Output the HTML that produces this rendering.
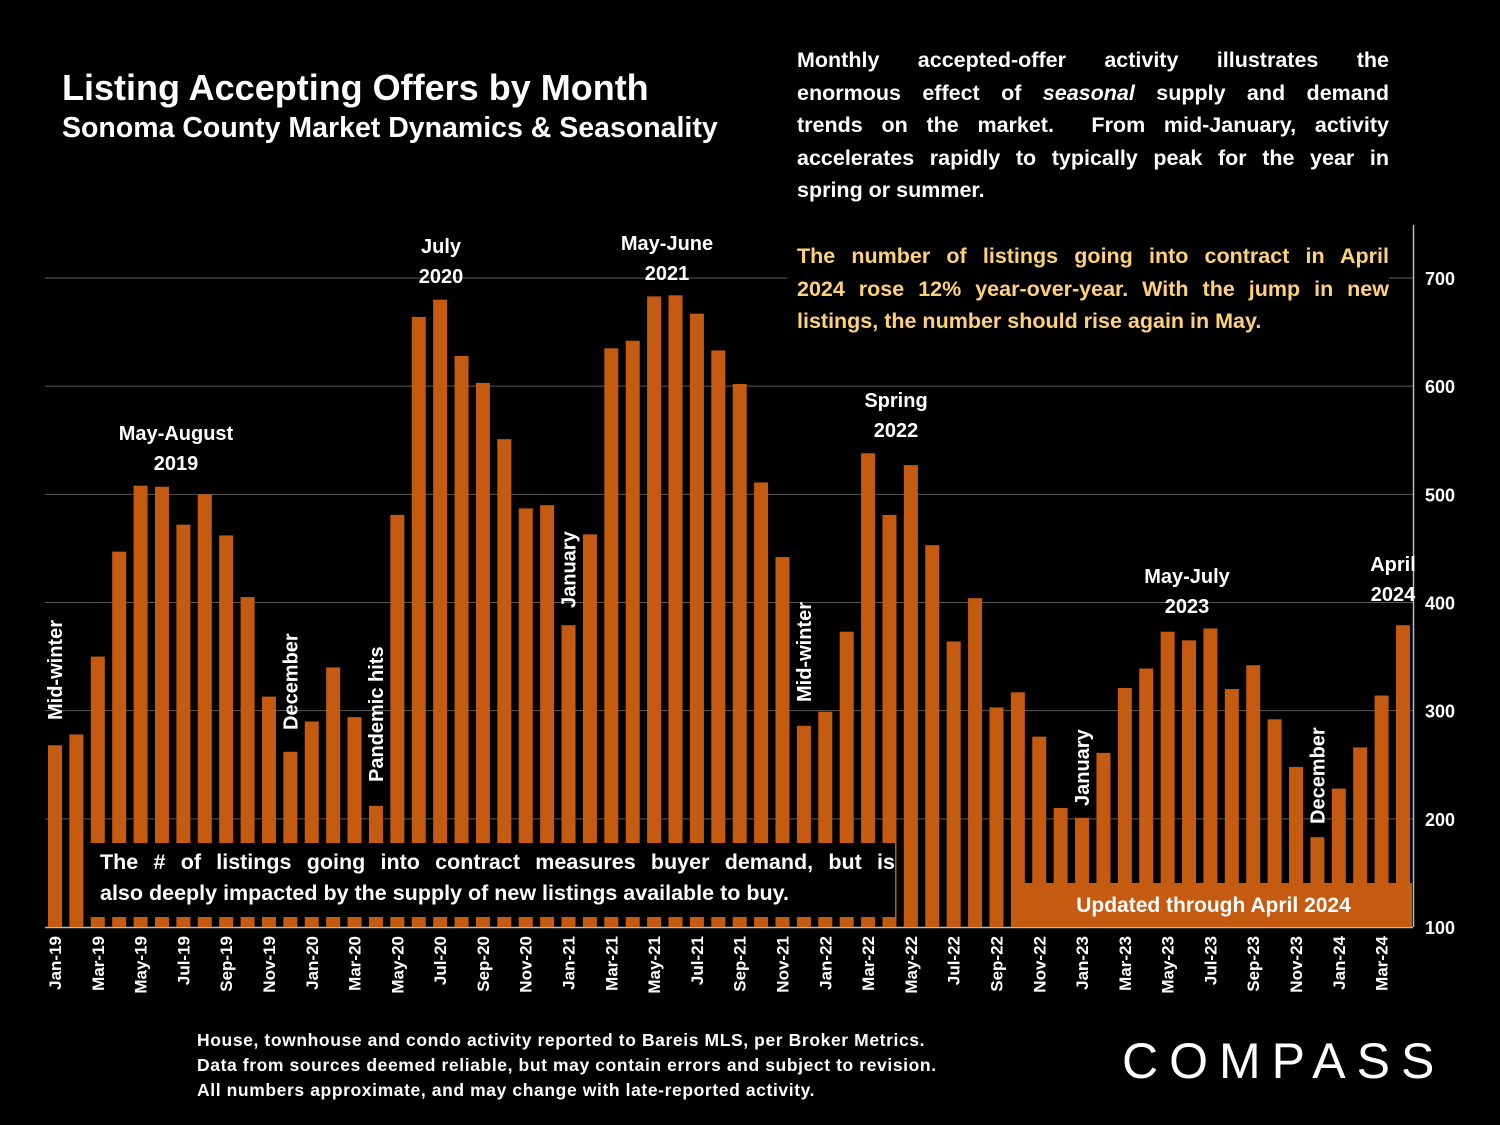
<!DOCTYPE html>
<html><head><meta charset="utf-8"><style>
body{margin:0;background:#000;width:1500px;height:1125px;overflow:hidden;font-family:"Liberation Sans",sans-serif;color:#fff}
.t{position:absolute;font-weight:bold}
.j{display:block;text-align:justify;text-align-last:justify}
.l{display:block;text-align:left}
</style></head><body>
<svg width="1500" height="1125" style="position:absolute;left:0;top:0">
<g id="grid"></g><g id="bars"></g><g id="xl"></g><g id="yl"></g><g id="ann"></g>
</svg>
<div class="t" style="left:62px;top:67px;font-size:36px">Listing Accepting Offers by Month</div>
<div class="t" style="left:62px;top:112px;font-size:28.5px">Sonoma County Market Dynamics &amp; Seasonality</div>
<div class="t" style="left:787px;top:44px;width:592px;padding:0 0 0 10px;font-size:21.5px;line-height:32.5px;background:#000"><span class="j">Monthly accepted-offer activity illustrates the</span><span class="j">enormous effect of <i>seasonal</i> supply and demand</span><span class="j">trends on the market.&nbsp; From mid-January, activity</span><span class="j">accelerates rapidly to typically peak for the year in</span><span class="l">spring or summer.</span></div>
<div class="t" style="left:787px;top:240px;width:592px;padding:0 0 10px 10px;font-size:21.5px;line-height:32.5px;color:#ffd27a;background:#000"><span class="j">The number of listings going into contract in April</span><span class="j">2024 rose 12% year-over-year. With the jump in new</span><span class="l">listings, the number should rise again in May.</span></div>
<div class="t" style="left:90px;top:843px;width:795px;height:70px;padding:4px 0 0 10px;font-size:21.5px;line-height:31px;background:#000"><span class="j">The # of listings going into contract measures buyer demand, but is</span><span class="l">also deeply impacted by the supply of new listings available to buy.</span></div>
<div class="t" style="left:1015px;top:883px;width:397px;height:44px;background:#c55a11;font-size:21px;line-height:46px;text-align:center;font-weight:bold">Updated through April 2024</div>
<div class="t" style="left:197px;top:1028px;font-size:17.5px;line-height:25px;letter-spacing:0.6px">House, townhouse and condo activity reported to Bareis MLS, per Broker Metrics.<br>Data from sources deemed reliable, but may contain errors and subject to revision.<br>All numbers approximate, and may change with late-reported activity.</div>
<div class="t" style="left:1122px;top:1032px;font-size:50px;font-weight:normal;letter-spacing:11px">COMPASS</div>
<script>
const months=["Jan","Feb","Mar","Apr","May","Jun","Jul","Aug","Sep","Oct","Nov","Dec"];
const categories=[];for(let y=19;y<=24;y++)for(let m=0;m<12;m++){if(y===24&&m>3)break;categories.push(months[m]+"-"+y);}
const values=[268,278,350,447,508,507,472,500,462,405,313,262,290,340,294,212,481,664,680,628,603,551,487,490,379,463,635,642,683,684,667,633,602,511,442,286,299,373,538,481,527,453,364,404,303,317,276,210,201,261,321,339,373,365,376,320,342,292,248,183,228,266,314,379];
const yTicks=[100,200,300,400,500,600,700];
const ns="http://www.w3.org/2000/svg";
const y=v=>927-(v-100)*649/600;
const x=i=>55+i*(1348/63);
function el(t,a,p){const e=document.createElementNS(ns,t);for(const k in a)e.setAttribute(k,a[k]);document.getElementById(p).appendChild(e);return e;}
yTicks.forEach(v=>{
 if(v>100){const g=el("line",{x1:45,x2:1413,y1:y(v),y2:y(v),stroke:"#595959","stroke-width":1},"grid");
 
 }
 const t=el("text",{x:1440,y:y(v)+7,"text-anchor":"middle",fill:"#fff","font-size":18,"font-weight":"bold"},"yl");t.textContent=v;
 
 
});
const ax=el("line",{x1:45,x2:1413,y1:927.5,y2:927.5,stroke:"#bbb","stroke-width":1.5},"grid");


const ra=el("line",{x1:1413.5,x2:1413.5,y1:225,y2:927,stroke:"#bbb","stroke-width":1.5},"grid");


values.forEach((v,i)=>{
 const r=el("rect",{x:x(i)-7,y:y(v),width:14,height:927-y(v),fill:"#c55a11"},"bars");
 
 
 if(i%2===0){const t=el("text",{x:0,y:0,transform:`translate(${x(i)+6},936) rotate(-90)`,"text-anchor":"end",fill:"#fff","font-size":17,"font-weight":"bold"},"xl");t.textContent=categories[i];
 
 }
});
const ann=[["Mid-winter",0,720],["December",11,730],["Pandemic hits",15,782],["January",24,608],["Mid-winter",35,702],["January",48,806],["December",59,824]];
ann.forEach(a=>{const t=el("text",{transform:`translate(${x(a[1])+7},${a[2]}) rotate(-90)`,fill:"#fff","font-size":20,"font-weight":"bold"},"ann");t.textContent=a[0];
 
 });
const ann2=[["May-August","2019",176,440],["July","2020",441,253],["May-June","2021",667,250],["Spring","2022",896,407],["May-July","2023",1187,583],["April","2024",1393,571]];
ann2.forEach(a=>{[a[0],a[1]].forEach((s,k)=>{const t=el("text",{x:a[2],y:a[3]+k*30,"text-anchor":"middle",fill:"#fff","font-size":20,"font-weight":"bold"},"ann");t.textContent=s;
 
 });});
</script>
</body></html>
